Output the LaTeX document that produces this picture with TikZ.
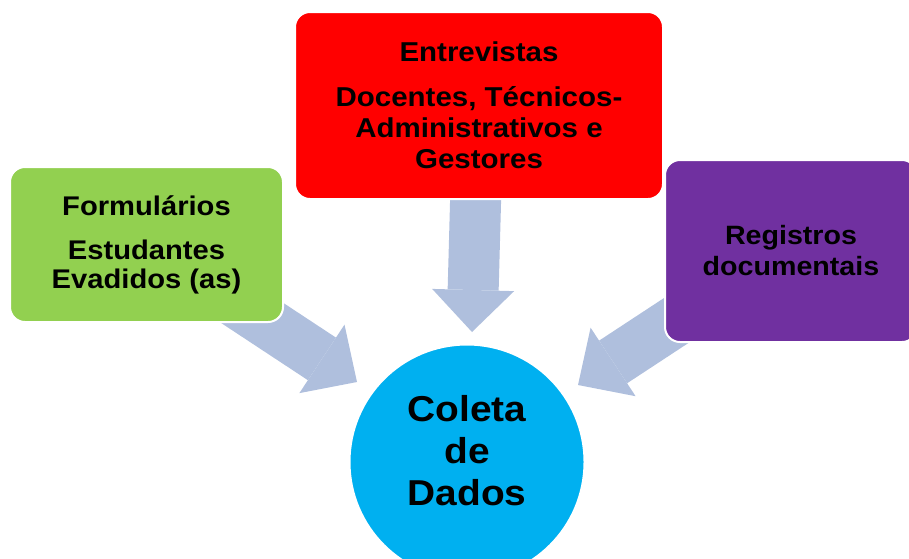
\documentclass[tikz,border=0pt]{standalone}
\usepackage{fontspec}
\setmainfont{Liberation Sans}[FakeStretch=1.08]
\usetikzlibrary{arrows.meta}
\definecolor{arrowblue}{RGB}{175,191,221}
\definecolor{boxgreen}{RGB}{146,208,80}
\definecolor{boxred}{RGB}{255,0,0}
\definecolor{boxpurple}{RGB}{112,48,160}
\definecolor{circblue}{RGB}{0,176,240}
\begin{document}
\begin{tikzpicture}[x=1pt,y=-1pt,
  box/.style={rectangle, rounded corners=15pt, draw=white, line width=2pt,
    align=center, font=\bfseries, inner sep=0pt},
  fatarrow/.style={draw=arrowblue, line width=51pt,
    -{Triangle[length=42pt,width=82pt,line width=0pt]}}]
\useasboundingbox (0,0) rectangle (909,558);
\clip (0,0) rectangle (909,558);
% connector end points
\coordinate (tailL) at (225,295);
\coordinate (tipL) at (357,382);
\coordinate (tailM) at (476,185);
\coordinate (tipM) at (472,332);
\coordinate (tailR) at (712,297);
\coordinate (tipR) at (578,385);
% arrows
\draw[fatarrow] (tailL) -- (tipL);
\draw[fatarrow] (tailM) -- (tipM);
\draw[fatarrow] (tailR) -- (tipR);
% boxes
\node[box, fill=boxgreen, minimum width=273pt, minimum height=155pt,
  font=\bfseries\fontsize{27}{29}\selectfont] (form) at (146.5,244.5)
  {Formulários\\[15pt]Estudantes\\Evadidos (as)};
\node[box, fill=boxred, minimum width=368pt, minimum height=187pt,
  font=\bfseries\fontsize{27.3}{31}\selectfont] (entr) at (479,105.5)
  {Entrevistas\\[14pt]Docentes, Técnicos-\\Administrativos e\\Gestores};
\node[box, fill=boxpurple, minimum width=252pt, minimum height=182pt,
  font=\bfseries\fontsize{26.5}{31}\selectfont] (regi) at (791,251)
  {Registros\\documentais};
\node[circle, fill=circblue, draw=white, line width=2pt, minimum size=235pt,
  inner sep=0pt] (coleta) at (467,462) {};
\node[align=center, font=\bfseries\fontsize{36}{42}\selectfont, inner sep=0pt]
  (coletatxt) at (467,451) {Coleta\\de\\Dados};
\end{tikzpicture}
\end{document}
